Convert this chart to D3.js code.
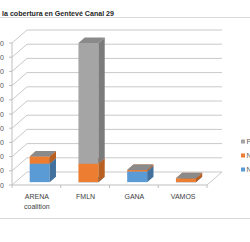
<!DOCTYPE html>
<html>
<head>
<meta charset="utf-8">
<script src="https://cdn.jsdelivr.net/npm/d3@7"></script>
<style>
  body { margin: 0; background: #fff; }
  svg { display: block; font-family: "Liberation Sans", Arial, sans-serif; }
</style>
</head>
<body>
<svg id="chart" width="250" height="242"></svg>
<script>
const categories = ["ARENA coalition", "FMLN", "GANA", "VAMOS"];
const seriesNames = ["Neutral", "Negativo", "Positivo"];
const neutral = [13, 0, 7.5, 0];
const negativo = [5, 13, 1, 2.7];
const positivo = [0, 85, 0, 0];
const yTicks = [0, 10, 20, 30, 40, 50, 60, 70, 80, 90, 100];

const colors = [
  { front: "#5b9bd5", side: "#41719c", top: "#4f89bf" },
  { front: "#ed7d31", side: "#b85f22", top: "#d46c27" },
  { front: "#a5a5a5", side: "#7b7b7b", top: "#8a8a8a" }
];

const svg = d3.select("#chart");
const depthX = 15, depthY = -13;
const f0 = 0.22, f1 = 0.64;

const x = d3.scaleBand().domain(categories).range([12, 207]);
const xBar = d3.scaleBand().domain(categories).range([12, 207])
  .paddingInner(0.59).paddingOuter(0.295);
const y = d3.scaleLinear().domain([0, 100]).range([185, 43]);

const grid = "#c9c9c9";

// chart area borders
svg.append("line").attr("x1", 0).attr("x2", 250).attr("y1", 17.5).attr("y2", 17.5)
  .attr("stroke", "#d9d9d9");
svg.append("line").attr("x1", 0).attr("x2", 250).attr("y1", 218.5).attr("y2", 218.5)
  .attr("stroke", "#d9d9d9");

// title
svg.append("text")
  .attr("x", 2).attr("y", 16)
  .attr("font-size", 8).attr("font-weight", "bold").attr("fill", "#262626")
  .attr("textLength", 112).attr("lengthAdjust", "spacingAndGlyphs")
  .text("la cobertura en Gentevé Canal 29");

// walls: back gridlines and side diagonals
const gridG = svg.append("g").attr("stroke", grid).attr("fill", "none");
yTicks.forEach(t => {
  const yy = y(t);
  gridG.append("line")
    .attr("x1", 12 + depthX).attr("x2", 207 + depthX)
    .attr("y1", yy + depthY).attr("y2", yy + depthY);
  gridG.append("line")
    .attr("x1", 12).attr("x2", 12 + depthX)
    .attr("y1", yy).attr("y2", yy + depthY);
});
// floor
gridG.append("line").attr("x1", 207).attr("y1", y(0))
  .attr("x2", 207 + depthX).attr("y2", y(0) + depthY);
gridG.append("line").attr("x1", 12).attr("y1", y(0))
  .attr("x2", 207).attr("y2", y(0)).attr("stroke", "#bfbfbf");
// vertical axis
gridG.append("line").attr("x1", 12).attr("x2", 12)
  .attr("y1", y(100)).attr("y2", y(0)).attr("stroke", "#bfbfbf");
yTicks.forEach(t => {
  gridG.append("line").attr("x1", 9).attr("x2", 12)
    .attr("y1", y(t)).attr("y2", y(t)).attr("stroke", "#bfbfbf");
});
// category ticks
x.domain().concat(["end"]).forEach((c, i) => {
  const xx = i < categories.length ? x(c) : 207;
  gridG.append("line").attr("x1", xx).attr("x2", xx)
    .attr("y1", y(0)).attr("y2", y(0) + 3).attr("stroke", "#bfbfbf");
});

// y tick labels (cut off at the left edge)
svg.append("g").selectAll("text").data(yTicks).join("text")
  .attr("x", 4).attr("y", d => y(d) + 2.5)
  .attr("text-anchor", "end").attr("font-size", 7).attr("fill", "#595959")
  .text(d => d);

// bars
const stackData = categories.map((c, i) => ({
  cat: c, vals: [neutral[i], negativo[i], positivo[i]]
}));
const barsG = svg.append("g");
stackData.forEach(d => {
  let base = 0;
  const bw = xBar.bandwidth();
  const x0 = xBar(d.cat) + f0 * depthX;
  const dxs = (f1 - f0) * depthX, dys = (f1 - f0) * depthY;
  d.vals.forEach((v, si) => {
    const yb = y(base) + f0 * depthY;
    const yt = y(base + v) + f0 * depthY;
    const col = colors[si];
    if (v > 0) {
      barsG.append("rect")
        .attr("x", x0).attr("y", yt).attr("width", bw).attr("height", yb - yt)
        .attr("fill", col.front);
      barsG.append("polygon")
        .attr("points", [[x0 + bw, yb], [x0 + bw + dxs, yb + dys],
          [x0 + bw + dxs, yt + dys], [x0 + bw, yt]].join(" "))
        .attr("fill", col.side);
    }
    barsG.append("polygon")
      .attr("points", [[x0, yt], [x0 + dxs, yt + dys],
        [x0 + bw + dxs, yt + dys], [x0 + bw, yt]].join(" "))
      .attr("fill", col.top);
    base += v;
  });
});

// category labels
const labG = svg.append("g").attr("font-size", 7).attr("fill", "#404040")
  .attr("text-anchor", "middle");
categories.forEach(c => {
  const lines = c === "ARENA coalition" ? ["ARENA", "coalition"] : [c];
  lines.forEach((ln, li) => {
    labG.append("text")
      .attr("x", x(c) + x.bandwidth() / 2 + 0.5)
      .attr("y", 198.5 + li * 10)
      .text(ln);
  });
});

// legend (reversed, cut off at right edge)
const legG = svg.append("g");
seriesNames.slice().reverse().forEach((s, i) => {
  const si = seriesNames.length - 1 - i;
  const ly = 141.5 + i * 14;
  legG.append("rect").attr("x", 241).attr("y", ly - 2).attr("width", 4).attr("height", 4)
    .attr("fill", colors[si].front);
  legG.append("text").attr("x", 246.5).attr("y", ly + 2.5)
    .attr("font-size", 7).attr("fill", "#595959").text(s);
});
</script>
</body>
</html>
